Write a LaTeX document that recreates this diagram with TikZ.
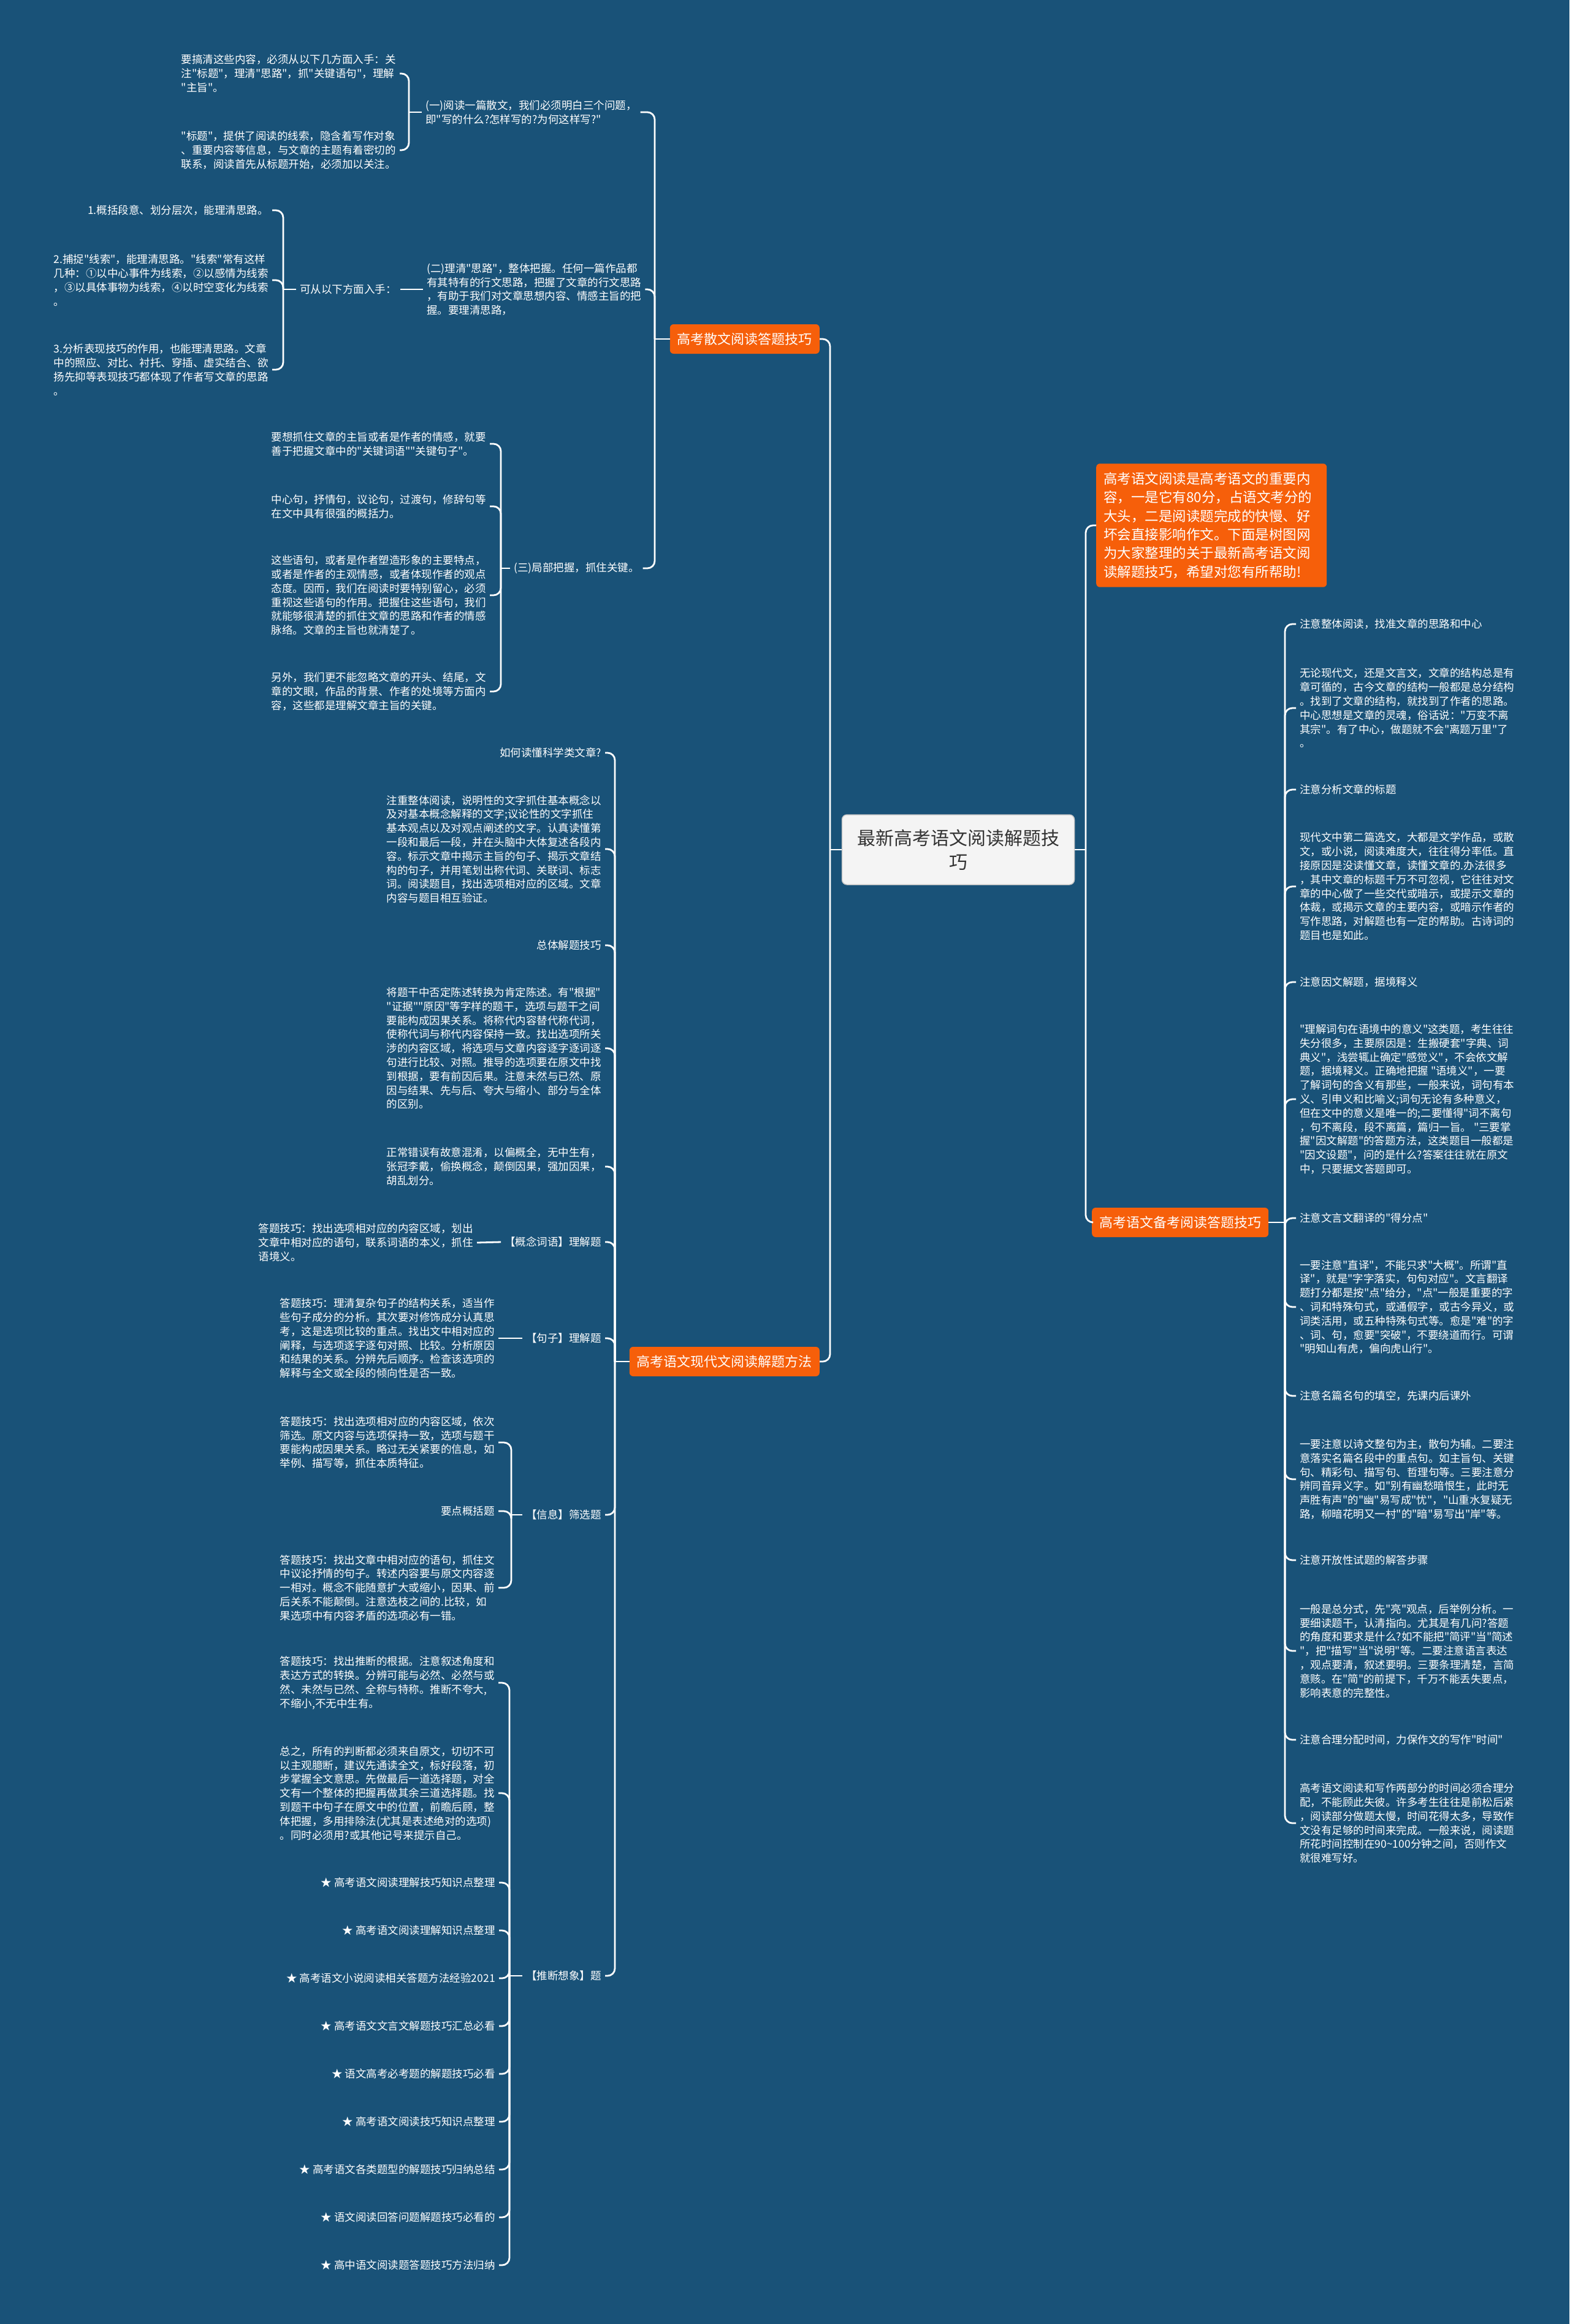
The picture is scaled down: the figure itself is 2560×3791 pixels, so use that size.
\documentclass[tikz,border=0pt]{standalone}
\usepackage{fontspec}
\setmainfont{Noto Sans CJK SC}
\newfontfamily\cjk{Noto Sans CJK SC}
\definecolor{bgblue}{RGB}{25,82,120}
\definecolor{hotorange}{RGB}{246,95,10}
\definecolor{rootfill}{RGB}{244,244,244}
\definecolor{rootline}{RGB}{200,200,200}
\definecolor{roottext}{RGB}{51,51,51}

\begin{document}
\begin{tikzpicture}[x=1pt, y=-1pt,
    link/.style={draw=white, line width=2.8pt, rounded corners=12pt},
    leaf/.style={text=white, font=\cjk\fontsize{17.5}{22.8}\selectfont, align=left,
                 inner xsep=6pt, inner ysep=2pt},
    branch/.style={fill=hotorange, text=white, rounded corners=6pt,
                   font=\cjk\fontsize{22}{30}\selectfont, inner xsep=12pt, inner ysep=12pt,
                   minimum height=48pt},
    rootbox/.style={fill=rootfill, draw=rootline, line width=1.5pt, rounded corners=8pt,
                    text=roottext, font=\cjk\fontsize{30}{39}\selectfont, align=center,
                    minimum width=379pt, minimum height=114pt}
]
\fill[bgblue] (0,0) rectangle (2560,3791);
\useasboundingbox (0,0) rectangle (2560,3791);

\node[rootbox] (root) at (1563,1386) {最新高考语文阅读解题技\\巧};

\node[branch, anchor=west, text width=352pt, align=left, inner ysep=14pt,
      font=\cjk\fontsize{22.5}{30.4}\selectfont] (intro) at (1788,857)
  {高考语文阅读是高考语文的重要内\\容，一是它有80分，占语文考分的\\大头，二是阅读题完成的快慢、好\\坏会直接影响作文。下面是树图网\\为大家整理的关于最新高考语文阅\\读解题技巧，希望对您有所帮助!};
\node[branch, anchor=west] (tips)   at (1781,1994) {高考语文备考阅读答题技巧};
\node[branch, anchor=east] (prose)  at (1337,553)  {高考散文阅读答题技巧};
\node[branch, anchor=east] (modern) at (1337,2221) {高考语文现代文阅读解题方法};

\coordinate (lj) at (1354,1386);
\coordinate (rj) at (1771,1386);
\draw[link] (root.west) -- (lj);
\draw[link] (lj) |- (prose.east);
\draw[link] (lj) |- (modern.east);
\draw[link] (root.east) -- (rj);
\draw[link] (rj) |- (intro.west);
\draw[link] (rj) |- (tips.west);

% prose
\node[leaf, anchor=west] (pq1) at (688,183) {(一)阅读一篇散文，我们必须明白三个问题，\\即"写的什么?怎样写的?为何这样写?"};
\node[leaf, anchor=east] (pq1a) at (652,120) {要搞清这些内容，必须从以下几方面入手：关\\注"标题"，理清"思路"，抓"关键语句"，理解\\"主旨"。};
\node[leaf, anchor=east] (pq1b) at (652,245) {"标题"，提供了阅读的线索，隐含着写作对象\\、重要内容等信息，与文章的主题有着密切的\\联系，阅读首先从标题开始，必须加以关注。};
\node[leaf, anchor=west] (pq2) at (690,472) {(二)理清"思路"，整体把握。任何一篇作品都\\有其特有的行文思路，把握了文章的行文思路\\，有助于我们对文章思想内容、情感主旨的把\\握。要理清思路，};
\node[leaf, anchor=east] (pq2k) at (653,472) {可从以下方面入手：};
\node[leaf, anchor=east] (pq2a) at (444,343) {1.概括段意、划分层次，能理清思路。};
\node[leaf, anchor=east] (pq2b) at (444,457) {2.捕捉"线索"，能理清思路。"线索"常有这样\\几种：①以中心事件为线索，②以感情为线索\\，③以具体事物为线索，④以时空变化为线索\\。};
\node[leaf, anchor=east] (pq2c) at (444,603) {3.分析表现技巧的作用，也能理清思路。文章\\中的照应、对比、衬托、穿插、虚实结合、欲\\扬先抑等表现技巧都体现了作者写文章的思路\\。};
\node[leaf, anchor=west] (pq3) at (832,927) {(三)局部把握，抓住关键。};
\node[leaf, anchor=east] (pq3a) at (799,724) {要想抓住文章的主旨或者是作者的情感，就要\\善于把握文章中的"关键词语""关键句子"。};
\node[leaf, anchor=east] (pq3b) at (799,826) {中心句，抒情句，议论句，过渡句，修辞句等\\在文中具有很强的概括力。};
\node[leaf, anchor=east] (pq3c) at (799,971) {这些语句，或者是作者塑造形象的主要特点，\\或者是作者的主观情感，或者体现作者的观点\\态度。因而，我们在阅读时要特别留心，必须\\重视这些语句的作用。把握住这些语句，我们\\就能够很清楚的抓住文章的思路和作者的情感\\脉络。文章的主旨也就清楚了。};
\node[leaf, anchor=east] (pq3d) at (799,1128) {另外，我们更不能忽略文章的开头、结尾，文\\章的文眼，作品的背景、作者的处境等方面内\\容，这些都是理解文章主旨的关键。};

\coordinate (pj)  at (1068,553);
\coordinate (pj1) at (667,183);
\coordinate (pj2) at (462,472);
\coordinate (pj3) at (817,927);
\draw[link] (prose.west) -- (pj);
\draw[link] (pj) |- (pq1.east);
\draw[link] (pj) |- (pq2.east);
\draw[link] (pj) |- (pq3.east);
\draw[link] (pq1.west) -- (pj1);
\draw[link] (pj1) |- (pq1a.east);
\draw[link] (pj1) |- (pq1b.east);
\draw[link] (pq2.west) -- (pq2k.east);
\draw[link] (pq2k.west) -- (pj2);
\draw[link] (pj2) |- (pq2a.east);
\draw[link] (pj2) |- (pq2b.east);
\draw[link] (pj2) |- (pq2c.east);
\draw[link] (pq3.west) -- (pj3);
\draw[link] (pj3) |- (pq3a.east);
\draw[link] (pj3) |- (pq3b.east);
\draw[link] (pj3) |- (pq3c.east);
\draw[link] (pj3) |- (pq3d.east);

% modern
\node[leaf, anchor=east] (sci) at (987,1228) {如何读懂科学类文章?};
\node[leaf, anchor=east] (sciread) at (987,1385) {注重整体阅读，说明性的文字抓住基本概念以\\及对基本概念解释的文字;议论性的文字抓住\\基本观点以及对观点阐述的文字。认真读懂第\\一段和最后一段，并在头脑中大体复述各段内\\容。标示文章中揭示主旨的句子、揭示文章结\\构的句子，并用笔划出称代词、关联词、标志\\词。阅读题目，找出选项相对应的区域。文章\\内容与题目相互验证。};
\node[leaf, anchor=east] (whole) at (987,1542) {总体解题技巧};
\node[leaf, anchor=east] (wholetip) at (987,1710) {将题干中否定陈述转换为肯定陈述。有"根据"\\"证据""原因"等字样的题干，选项与题干之间\\要能构成因果关系。将称代内容替代称代词，\\使称代词与称代内容保持一致。找出选项所关\\涉的内容区域，将选项与文章内容逐字逐词逐\\句进行比较、对照。推导的选项要在原文中找\\到根据，要有前因后果。注意未然与已然、原\\因与结果、先与后、夸大与缩小、部分与全体\\的区别。};
\node[leaf, anchor=east] (errs) at (987,1903) {正常错误有故意混淆，以偏概全，无中生有，\\张冠李戴，偷换概念，颠倒因果，强加因果，\\胡乱划分。};
\node[leaf, anchor=east] (concept) at (987,2026) {【概念词语】理解题};
\node[leaf, anchor=east] (concepttip) at (778,2027) {答题技巧：找出选项相对应的内容区域，划出\\文章中相对应的语句，联系词语的本义，抓住\\语境义。};
\node[leaf, anchor=east] (sent) at (987,2183) {【句子】理解题};
\node[leaf, anchor=east] (senttip) at (813,2183) {答题技巧：理清复杂句子的结构关系，适当作\\些句子成分的分析。其次要对修饰成分认真思\\考，这是选项比较的重点。找出文中相对应的\\阐释，与选项逐字逐句对照、比较。分析原因\\和结果的关系。分辨先后顺序。检查该选项的\\解释与全文或全段的倾向性是否一致。};
\node[leaf, anchor=east] (info) at (987,2471) {【信息】筛选题};
\node[leaf, anchor=east] (infoa) at (813,2353) {答题技巧：找出选项相对应的内容区域，依次\\筛选。原文内容与选项保持一致，选项与题干\\要能构成因果关系。略过无关紧要的信息，如\\举例、描写等，抓住本质特征。};
\node[leaf, anchor=east] (infokey) at (813,2465) {要点概括题};
\node[leaf, anchor=east] (infob) at (813,2590) {答题技巧：找出文章中相对应的语句，抓住文\\中议论抒情的句子。转述内容要与原文内容逐\\一相对。概念不能随意扩大或缩小，因果、前\\后关系不能颠倒。注意选枝之间的.比较，如\\果选项中有内容矛盾的选项必有一错。};
\node[leaf, anchor=east] (infer) at (987,3223) {【推断想象】题};
\node[leaf, anchor=east] (infera) at (813,2745) {答题技巧：找出推断的根据。注意叙述角度和\\表达方式的转换。分辨可能与必然、必然与或\\然、未然与已然、全称与特称。推断不夸大,\\不缩小,不无中生有。};
\node[leaf, anchor=east] (inferb) at (813,2925) {总之，所有的判断都必须来自原文，切切不可\\以主观臆断，建议先通读全文，标好段落，初\\步掌握全文意思。先做最后一道选择题，对全\\文有一个整体的把握再做其余三道选择题。找\\到题干中句子在原文中的位置，前瞻后顾，整\\体把握，多用排除法(尤其是表述绝对的选项)\\。同时必须用?或其他记号来提示自己。};
\node[leaf, anchor=east] (star1) at (814,3071) {★ 高考语文阅读理解技巧知识点整理};
\node[leaf, anchor=east] (star2) at (814,3149) {★ 高考语文阅读理解知识点整理};
\node[leaf, anchor=east] (star3) at (814,3227) {★ 高考语文小说阅读相关答题方法经验2021};
\node[leaf, anchor=east] (star4) at (814,3305) {★ 高考语文文言文解题技巧汇总必看};
\node[leaf, anchor=east] (star5) at (814,3383) {★ 语文高考必考题的解题技巧必看};
\node[leaf, anchor=east] (star6) at (814,3461) {★ 高考语文阅读技巧知识点整理};
\node[leaf, anchor=east] (star7) at (814,3539) {★ 高考语文各类题型的解题技巧归纳总结};
\node[leaf, anchor=east] (star8) at (814,3617) {★ 语文阅读回答问题解题技巧必看的};
\node[leaf, anchor=east] (star9) at (814,3695) {★ 高中语文阅读题答题技巧方法归纳};

\coordinate (mj) at (1003,2221);
\coordinate (ij) at (834,2471);
\coordinate (fj) at (831,3223);
\draw[link] (modern.west) -- (mj);
\draw[link] (mj) |- (sci.east);
\draw[link] (mj) |- (sciread.east);
\draw[link] (mj) |- (whole.east);
\draw[link] (mj) |- (wholetip.east);
\draw[link] (mj) |- (errs.east);
\draw[link] (mj) |- (concept.east);
\draw[link] (mj) |- (sent.east);
\draw[link] (mj) |- (info.east);
\draw[link] (mj) |- (infer.east);
\draw[link] (concept.west) -- (concepttip.east);
\draw[link] (sent.west) -- (senttip.east);
\draw[link] (info.west) -- (ij);
\draw[link] (ij) |- (infoa.east);
\draw[link] (ij) |- (infokey.east);
\draw[link] (ij) |- (infob.east);
\draw[link] (infer.west) -- (fj);
\draw[link] (fj) |- (infera.east);
\draw[link] (fj) |- (inferb.east);
\draw[link] (fj) |- (star1.east);
\draw[link] (fj) |- (star2.east);
\draw[link] (fj) |- (star3.east);
\draw[link] (fj) |- (star4.east);
\draw[link] (fj) |- (star5.east);
\draw[link] (fj) |- (star6.east);
\draw[link] (fj) |- (star7.east);
\draw[link] (fj) |- (star8.east);
\draw[link] (fj) |- (star9.east);

% tips
\node[leaf, anchor=west] (t1) at (2114,1018) {注意整体阅读，找准文章的思路和中心};
\node[leaf, anchor=west] (t2) at (2114,1155) {无论现代文，还是文言文，文章的结构总是有\\章可循的，古今文章的结构一般都是总分结构\\。找到了文章的结构，就找到了作者的思路。\\中心思想是文章的灵魂，俗话说："万变不离\\其宗"。有了中心，做题就不会"离题万里"了\\。};
\node[leaf, anchor=west] (t3) at (2114,1288) {注意分析文章的标题};
\node[leaf, anchor=west] (t4) at (2114,1446) {现代文中第二篇选文，大都是文学作品，或散\\文，或小说，阅读难度大，往往得分率低。直\\接原因是没读懂文章，读懂文章的.办法很多\\，其中文章的标题千万不可忽视，它往往对文\\章的中心做了一些交代或暗示，或提示文章的\\体裁，或揭示文章的主要内容，或暗示作者的\\写作思路，对解题也有一定的帮助。古诗词的\\题目也是如此。};
\node[leaf, anchor=west] (t5) at (2114,1602) {注意因文解题，据境释义};
\node[leaf, anchor=west] (t6) at (2114,1793) {"理解词句在语境中的意义"这类题，考生往往\\失分很多，主要原因是：生搬硬套"字典、词\\典义"，浅尝辄止确定"感觉义"，不会依文解\\题，据境释义。正确地把握 "语境义"，一要\\了解词句的含义有那些，一般来说，词句有本\\义、引申义和比喻义;词句无论有多种意义，\\但在文中的意义是唯一的;二要懂得"词不离句\\，句不离段，段不离篇，篇归一旨。 "三要掌\\握"因文解题"的答题方法，这类题目一般都是\\"因文设题"，问的是什么?答案往往就在原文\\中，只要据文答题即可。};
\node[leaf, anchor=west] (t7) at (2114,1987) {注意文言文翻译的"得分点"};
\node[leaf, anchor=west] (t8) at (2114,2132) {一要注意"直译"，不能只求"大概"。所谓"直\\译"，就是"字字落实，句句对应"。文言翻译\\题打分都是按"点"给分，"点"一般是重要的字\\、词和特殊句式，或通假字，或古今异义，或\\词类活用，或五种特殊句式等。愈是"难"的字\\、词、句，愈要"突破"，不要绕道而行。可谓\\"明知山有虎，偏向虎山行"。};
\node[leaf, anchor=west] (t9) at (2114,2277) {注意名篇名句的填空，先课内后课外};
\node[leaf, anchor=west] (t10) at (2114,2413) {一要注意以诗文整句为主，散句为辅。二要注\\意落实名篇名段中的重点句。如主旨句、关键\\句、精彩句、描写句、哲理句等。三要注意分\\辨同音异义字。如"别有幽愁暗恨生，此时无\\声胜有声"的"幽"易写成"忧"，"山重水复疑无\\路，柳暗花明又一村"的"暗"易写出"岸"等。};
\node[leaf, anchor=west] (t11) at (2114,2545) {注意开放性试题的解答步骤};
\node[leaf, anchor=west] (t12) at (2114,2693) {一般是总分式，先"亮"观点，后举例分析。一\\要细读题干，认清指向。尤其是有几问?答题\\的角度和要求是什么?如不能把"简评"当"简述\\"，把"描写"当"说明"等。二要注意语言表达\\，观点要清，叙述要明。三要条理清楚，言简\\意赅。在"简"的前提下，千万不能丢失要点，\\影响表意的完整性。};
\node[leaf, anchor=west] (t13) at (2114,2838) {注意合理分配时间，力保作文的写作"时间"};
\node[leaf, anchor=west] (t14) at (2114,2974) {高考语文阅读和写作两部分的时间必须合理分\\配，不能顾此失彼。许多考生往往是前松后紧\\，阅读部分做题太慢，时间花得太多，导致作\\文没有足够的时间来完成。一般来说，阅读题\\所花时间控制在90\textasciitilde100分钟之间，否则作文\\就很难写好。};

\coordinate (tj) at (2096,1994);
\draw[link] (tips.east) -- (tj);
\draw[link] (tj) |- (t1.west);
\draw[link] (tj) |- (t2.west);
\draw[link] (tj) |- (t3.west);
\draw[link] (tj) |- (t4.west);
\draw[link] (tj) |- (t5.west);
\draw[link] (tj) |- (t6.west);
\draw[link] (tj) |- (t7.west);
\draw[link] (tj) |- (t8.west);
\draw[link] (tj) |- (t9.west);
\draw[link] (tj) |- (t10.west);
\draw[link] (tj) |- (t11.west);
\draw[link] (tj) |- (t12.west);
\draw[link] (tj) |- (t13.west);
\draw[link] (tj) |- (t14.west);
\end{tikzpicture}
\end{document}
